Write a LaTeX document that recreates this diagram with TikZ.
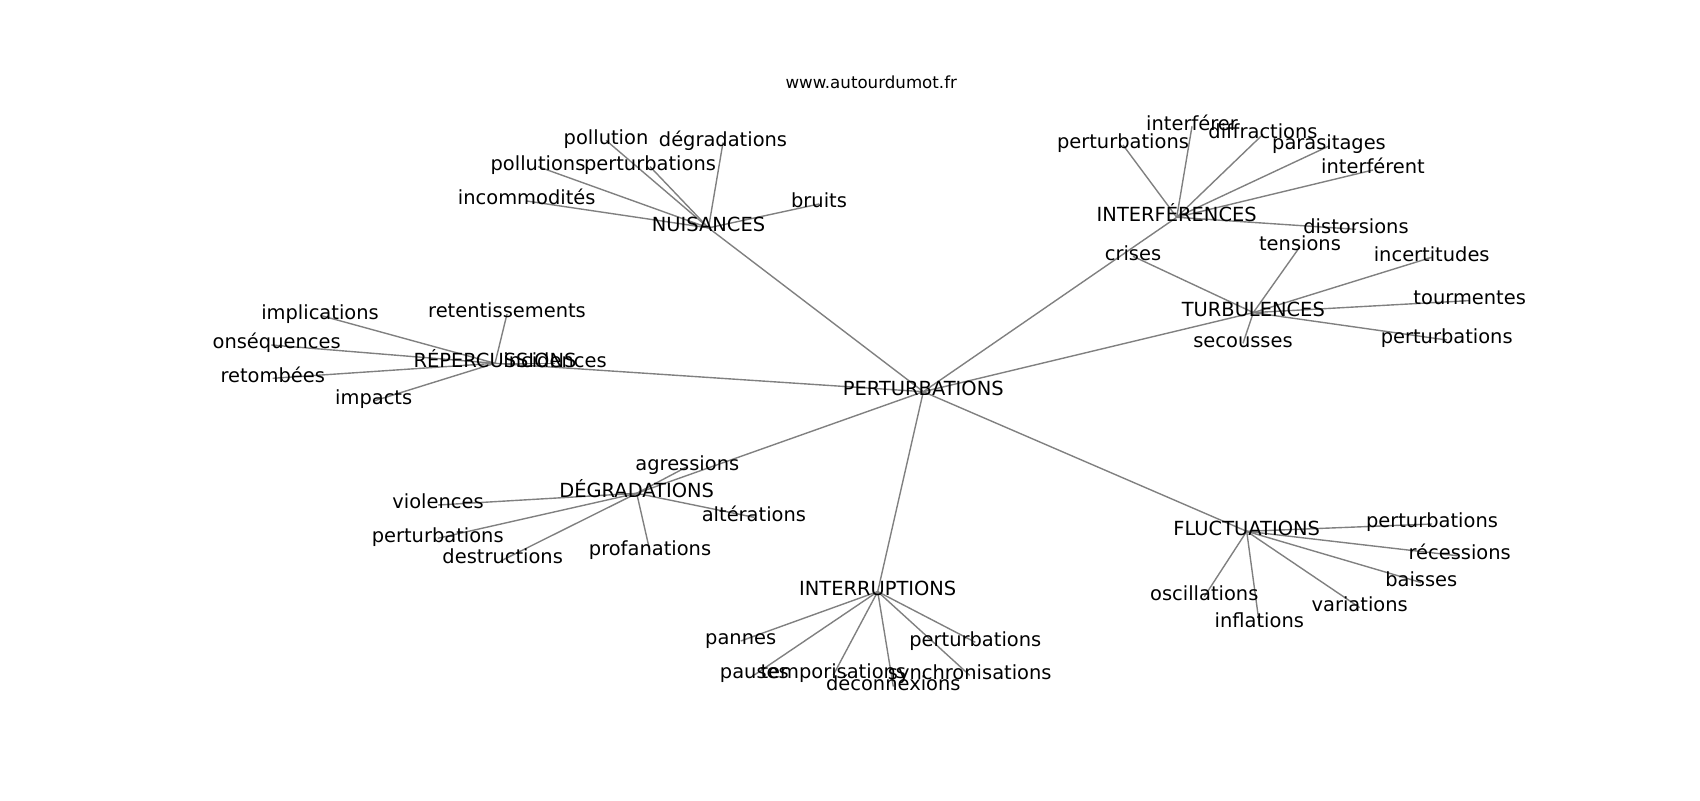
\documentclass[tikz,border=0pt]{standalone}
\usepackage{fontspec}
\setmainfont{DejaVu Sans}
\pgfdeclarelayer{links}
\pgfsetlayers{links,main}

\begin{document}
\begin{tikzpicture}[x=0.72pt,y=-0.72pt,styline/.style={color=gray, line
    width=1.0pt},styword/.style={font=\fontsize{14}{17}\selectfont, inner sep=0pt,
    text height=0.76em, text depth=0.21em},stytitle/.style={font=\fontsize{12}{14}\selectfont,
    inner sep=0pt}]

\useasboundingbox (0,0) rectangle (1700,800);
\begin{pgfonlayer}{links}
\fill[white] (0,0) rectangle (1700,800);
\end{pgfonlayer}

% Site name above the plot
\node[stytitle, anchor=base] (site) at (871.25,88.8) {www.autourdumot.fr};

% Words are clipped to the plot area (left end of "conséquences")
\begin{scope}
\clip (212.5,96) rectangle (1530,712);

% Centre word
\node[styword] (pert) at (923.3,391.7) {PERTURBATIONS};

% Upper left group
\node[styword] (nuis) at (708.5,227.9) {NUISANCES};
\node[styword] (nuis1) at (606,140.3) {pollution};
\node[styword] (nuis2) at (723,142.6) {dégradations};
\node[styword] (nuis3) at (538,166.6) {pollutions};
\node[styword] (nuis4) at (650,166.6) {perturbations};
\node[styword] (nuis5) at (526.7,201) {incommodités};
\node[styword] (nuis6) at (819,204) {bruits};

% Upper right group
\node[styword] (intf) at (1176.7,217.3) {INTERFÉRENCES};
\node[styword] (intf1) at (1123,145) {perturbations};
\node[styword] (intf2) at (1192,126.3) {interférer};
\node[styword] (intf3) at (1263,134.3) {diffractions};
\node[styword] (intf4) at (1329,146) {parasitages};
\node[styword] (intf5) at (1373,170) {interférent};
\node[styword] (intf6) at (1356,229.3) {distorsions};

% Right group
\node[styword] (turb) at (1253.3,312.6) {TURBULENCES};
\node[styword] (turb1) at (1133,256.3) {crises};
\node[styword] (turb2) at (1300,246.6) {tensions};
\node[styword] (turb3) at (1431.7,257.3) {incertitudes};
\node[styword] (turb4) at (1469.7,300.6) {tourmentes};
\node[styword] (turb5) at (1446.7,340) {perturbations};
\node[styword] (turb6) at (1243,343.3) {secousses};

% Left group
\node[styword] (reper) at (495,363.3) {RÉPERCUSSIONS};
\node[styword] (reper1) at (555,363.3) {incidences};
\node[styword] (reper2) at (320,315.3) {implications};
\node[styword] (reper3) at (271.3,345) {conséquences};
\node[styword] (reper4) at (272.7,378.3) {retombées};
\node[styword] (reper5) at (373.7,401) {impacts};
\node[styword] (reper6) at (507,314) {retentissements};

% Lower left group
\node[styword] (degr) at (636.7,493.3) {DÉGRADATIONS};
\node[styword] (degr1) at (687.3,466.6) {agressions};
\node[styword] (degr2) at (438,505) {violences};
\node[styword] (degr3) at (437.7,538.3) {perturbations};
\node[styword] (degr4) at (502.7,560) {destructions};
\node[styword] (degr5) at (650,551.6) {profanations};
\node[styword] (degr6) at (753.9,517.3) {altérations};

% Lower group
\node[styword] (intr) at (877.7,591.6) {INTERRUPTIONS};
\node[styword] (intr1) at (740.7,641) {pannes};
\node[styword] (intr2) at (754.3,675) {pauses};
\node[styword] (intr3) at (833.3,675) {temporisations};
\node[styword] (intr4) at (893.3,686.6) {déconnexions};
\node[styword] (intr5) at (975.3,642.3) {perturbations};
\node[styword] (intr6) at (969.7,675.3) {synchronisations};

% Lower right group
\node[styword] (fluc) at (1246.7,531.3) {FLUCTUATIONS};
\node[styword] (fluc1) at (1432,524) {perturbations};
\node[styword] (fluc2) at (1459.7,556) {récessions};
\node[styword] (fluc3) at (1421.3,582.6) {baisses};
\node[styword] (fluc4) at (1359.7,607.6) {variations};
\node[styword] (fluc5) at (1259.3,624) {inflations};
\node[styword] (fluc6) at (1204.3,596.6) {oscillations};
\end{scope}

% Links, drawn under the words
\begin{pgfonlayer}{links}
\foreach \g in {nuis,intf,turb,reper,degr,intr,fluc}
{
  \draw[styline] (pert.center) -- (\g.center);
  \foreach \i in {1,...,6}
  \draw[styline] (\g.center) -- (\g\i.center);
}
\end{pgfonlayer}

\end{tikzpicture}
\end{document}
